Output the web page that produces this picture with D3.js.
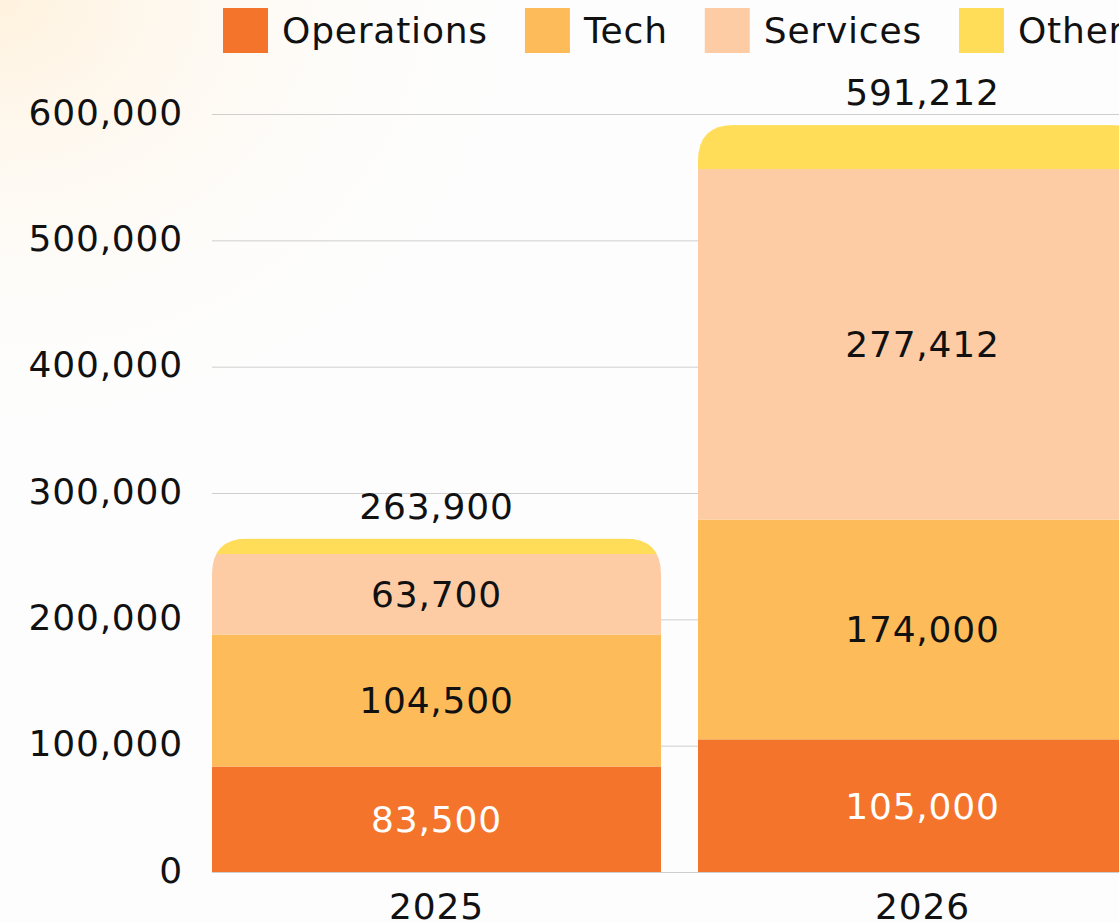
<!DOCTYPE html>
<html lang="en">
<head>
    <meta charset="UTF-8">
    <title>Stacked bars</title>
    <style>
        html,
        body {
            margin: 0;
            height: 100%;
            overflow: hidden;
            background: #fdfdfd;
        }
        text { font-family: "DejaVu Sans", sans-serif; letter-spacing: 0.8px; }
    </style>
    <script src="https://cdn.jsdelivr.net/npm/d3@7"></script>
</head>
<body>
    <svg id="svg"></svg>
    <script>
        const years = ['2025', '2026'];
        const keys = ['Operations', 'Tech', 'Services', 'Other'];
        const operations = [83500, 105000];
        const tech = [104500, 174000];
        const services = [63700, 277412];
        const other = [12200, 34800];
        const yTicks = [0, 100000, 200000, 300000, 400000, 500000, 600000];
        const colors = ['#f5742b', '#fdbc59', '#fdcca4', '#ffdd59'];
        const labelColors = ['#fff', '#111', '#111', null];

        const width = 1119, height = 923;
        const svg = d3.select('#svg').attr('width', width).attr('height', height);

        // warm glow top-left
        const defs = svg.append('defs');
        const rg = defs.append('radialGradient').attr('id', 'glow')
            .attr('cx', 0).attr('cy', 0).attr('r', 0.5);
        rg.append('stop').attr('offset', '0%').attr('stop-color', '#fff2de');
        rg.append('stop').attr('offset', '100%').attr('stop-color', '#ffffff').attr('stop-opacity', 0);
        svg.append('rect').attr('width', width).attr('height', height).attr('fill', 'url(#glow)');

        const data = years.map((y, i) => ({
            year: y, Operations: operations[i], Tech: tech[i], Services: services[i], Other: other[i]
        }));
        const stack = d3.stack().keys(keys)(data);

        const x = d3.scaleBand().domain(years).range([212, 1147]).paddingInner(37 / 486).paddingOuter(0);
        const y = d3.scaleLinear().domain([0, 600000]).range([872, 114]);
        const color = d3.scaleOrdinal().domain(keys).range(colors);
        const fmt = d3.format(',');
        const fs = 36;

        // grid + y labels
        const yAxis = d3.axisLeft(y).tickValues(yTicks).tickFormat(fmt)
            .tickSize(-(width - 212)).tickPadding(29);
        const ga = svg.append('g').attr('transform', 'translate(212,0)').call(yAxis);
        ga.select('.domain').remove();
        ga.selectAll('line').attr('stroke', '#cfcfcf');
        ga.selectAll('text').attr('font-size', fs).attr('fill', '#111')
            .attr('font-family', '"DejaVu Sans", sans-serif').attr('dy', '0.28em');

        const r = 36;
        const bw = x.bandwidth();
        data.forEach((d, i) => {
            const total = keys.reduce((s, k) => s + d[k], 0);
            const x0 = x(d.year), top = y(total), base = y(0);
            defs.append('clipPath').attr('id', 'clip' + i).append('path')
                .attr('d', `M${x0},${base}V${top + r}Q${x0},${top} ${x0 + r},${top}H${x0 + bw - r}Q${x0 + bw},${top} ${x0 + bw},${top + r}V${base}Z`);
        });

        const bars = svg.append('g');
        years.forEach((yr, i) => {
            const g = bars.append('g').attr('clip-path', `url(#clip${i})`);
            g.selectAll('rect').data(stack).join('rect')
                .attr('x', x(yr))
                .attr('width', x.bandwidth())
                .attr('y', s => y(s[i][1]))
                .attr('height', s => y(s[i][0]) - y(s[i][1]))
                .attr('fill', s => color(s.key));
        });

        // segment labels
        stack.forEach((s, k) => {
            if (!labelColors[k]) return;
            s.forEach((v, i) => {
                svg.append('text')
                    .attr('x', x(years[i]) + bw / 2)
                    .attr('y', (y(v[0]) + y(v[1])) / 2)
                    .attr('dy', '0.36em')
                    .attr('text-anchor', 'middle')
                    .attr('font-size', fs)
                    .attr('fill', labelColors[k])
                    .text(fmt(v[1] - v[0]));
            });
        });

        // totals
        data.forEach(d => {
            const total = keys.reduce((s, k) => s + d[k], 0);
            svg.append('text')
                .attr('x', x(d.year) + bw / 2)
                .attr('y', y(total) - 20)
                .attr('text-anchor', 'middle')
                .attr('font-size', fs)
                .attr('fill', '#111')
                .text(fmt(total));
        });

        // x axis
        const xAxis = d3.axisBottom(x).tickSize(0).tickPadding(21);
        const gx = svg.append('g').attr('transform', 'translate(0,872)').call(xAxis);
        gx.select('.domain').remove();
        gx.selectAll('text').attr('font-size', fs).attr('fill', '#111')
            .attr('font-family', '"DejaVu Sans", sans-serif');

        // legend
        const legend = svg.append('g');
        let lx = 223;
        keys.forEach((k, i) => {
            legend.append('rect').attr('x', lx).attr('y', 8).attr('width', 45).attr('height', 45)
                .attr('fill', colors[i]);
            const t = legend.append('text').attr('x', lx + 59).attr('y', 30).attr('dy', '0.36em')
                .attr('font-size', fs).attr('fill', '#111').text(k);
            lx += 59 + t.node().getComputedTextLength() + 37;
        });
    </script>
</body>
</html>
